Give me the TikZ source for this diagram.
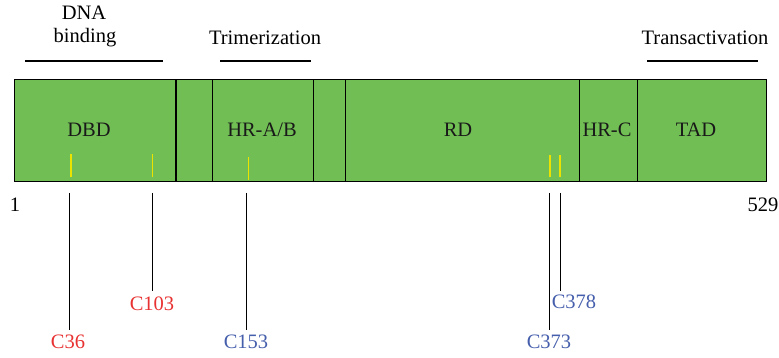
\documentclass[tikz,border=0pt]{standalone}
\usepackage{fontspec}
\setmainfont{Liberation Serif}
\definecolor{domgreen}{RGB}{113,191,84}
\definecolor{cysred}{RGB}{232,50,50}
\definecolor{cysblue}{RGB}{70,95,172}
\definecolor{tickyellow}{RGB}{236,228,0}
\tikzset{
  every node/.style={font=\fontsize{20.5}{24}\selectfont, inner sep=0pt},
  segment/.style={draw=black, line width=1.2pt, fill=domgreen,
    minimum height=102pt, anchor=north west},
  seglabel/.style={text=black!90},
  region/.style={line width=1.2pt},
  cysmark/.style={draw=tickyellow, line width=1.1pt},
  cysline/.style={draw=black, line width=1pt},
  redlab/.style={text=cysred, anchor=north},
  bluelab/.style={text=cysblue, anchor=north},
}
\begin{document}
\begin{tikzpicture}[x=1pt,y=-1pt]
\useasboundingbox (0,0) rectangle (779,358);

% functional regions above the protein
\node (dna) at (84,13) {DNA};
\node (binding) at (85,38) {binding};
\node (trim) at (265,38) {Trimerization};
\node (trans) at (705,38) {Transactivation};
\coordinate (dnaL) at (25,61);   \coordinate (dnaR) at (163,61);
\coordinate (trimL) at (220,61); \coordinate (trimR) at (311,61);
\coordinate (transL) at (647,61);\coordinate (transR) at (758,61);
\draw[region] (dnaL) -- (dnaR);
\draw[region] (trimL) -- (trimR);
\draw[region] (transL) -- (transR);

% domain segments of the protein
\node[segment, minimum width=161.3pt] (dbd) at (14,79) {};
\node[segment, minimum width=36.7pt] (link1) at (175.3,79) {};
\node[segment, minimum width=101pt] (hrab) at (212,79) {};
\node[segment, minimum width=31.7pt] (link2) at (313,79) {};
\node[segment, minimum width=234pt] (rd) at (344.7,79) {};
\node[segment, minimum width=58.3pt] (hrc) at (578.7,79) {};
\node[segment, minimum width=128.7pt] (tad) at (637,79) {};

\node[seglabel] at (89,130) {DBD};
\node[seglabel] at (262,130) {HR-A/B};
\node[seglabel] at (458,130) {RD};
\node[seglabel] at (607,130) {HR-C};
\node[seglabel] at (696,130) {TAD};

% cysteine positions inside the protein
\draw[cysmark] (71,154) -- (71,177);
\draw[cysmark] (152.3,154) -- (152.3,177);
\draw[cysmark] (248.7,157) -- (248.7,180);
\draw[cysmark] (550,155) -- (550,177);
\draw[cysmark] (560,155) -- (560,177);

% sequence ends
\node (n1) at (15,205) {1};
\node (n529) at (763,205) {529};

% cysteine labels
\node[redlab] (c36) at (68,335) {C36};
\node[redlab] (c103) at (152,297) {C103};
\node[bluelab] (c153) at (246,335) {C153};
\node[bluelab] (c373) at (549,335) {C373};
\node[bluelab] (c378) at (574,295) {C378};

\coordinate (t36) at (69,193);
\coordinate (t103) at (152.3,193);
\coordinate (t153) at (246.3,193);
\coordinate (t373) at (549.3,193);
\coordinate (t378) at (560.3,193);
\draw[cysline] (t36) -- (t36 |- 0,330);
\draw[cysline] (t103) -- (t103 |- 0,291);
\draw[cysline] (t153) -- (t153 |- 0,330);
\draw[cysline] (t373) -- (t373 |- 0,330);
\draw[cysline] (t378) -- (t378 |- 0,291);
\end{tikzpicture}
\end{document}
